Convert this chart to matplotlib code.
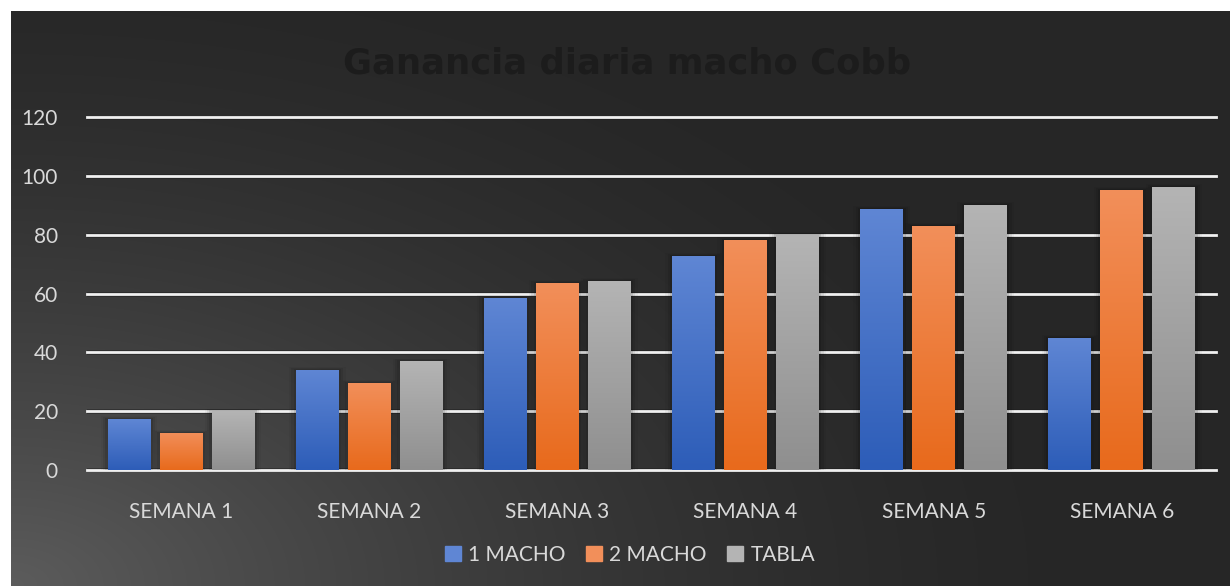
import numpy as np
import matplotlib.pyplot as plt
from matplotlib.colors import LinearSegmentedColormap
from matplotlib.patches import Rectangle

semanas = ["SEMANA 1", "SEMANA 2", "SEMANA 3", "SEMANA 4", "SEMANA 5", "SEMANA 6"]
series_names = ["1 MACHO", "2 MACHO", "TABLA"]
macho_1 = [17.3, 34.0, 58.5, 72.8, 88.8, 44.9]
macho_2 = [12.6, 29.6, 63.6, 78.2, 83.0, 95.2]
tabla = [20.0, 37.0, 64.3, 80.0, 90.1, 96.3]

# top / bottom gradient colours per series
grad_colors = [("#5f86d4", "#2d5db8"), ("#f28f5a", "#e86a1c"), ("#b4b4b4", "#8f8f8f")]

plt.rcParams["font.family"] = ["Lato", "DejaVu Sans"]

W, H = 1230, 586
fig = plt.figure(figsize=(W / 100, H / 100), dpi=100)
fig.patch.set_facecolor("white")

# dark background with a light glow in the bottom-left corner
bg = fig.add_axes([11 / W, 0, 1 - 11 / W, 1 - 11 / H])
bg.set_axis_off()
yy, xx = np.mgrid[0:575, 0:1219]
d = np.sqrt((xx / 1219.0) ** 2 * 1.6 + ((574 - yy) / 575.0) ** 2) / 1.15
glow = np.clip(1 - d, 0, 1) ** 1.6
dark, light = 0x26 / 255, 0x5c / 255
shade = dark + (light - dark) * glow
bg.imshow(np.dstack([shade, shade, shade]), aspect="auto", origin="upper",
          extent=(0, 1, 0, 1))
bg.set_xlim(0, 1)
bg.set_ylim(0, 1)

ax = fig.add_axes([87 / W, 1 - 470 / H, (1216 - 87) / W, (470 - 117) / H])
ax.set_facecolor("none")
for s in ax.spines.values():
    s.set_visible(False)

x = np.arange(len(semanas))
width = 43 / 188.2
step = 52 / 188.2
all_series = [macho_1, macho_2, tabla]

for i, (vals, name, (c_top, c_bot)) in enumerate(zip(all_series, series_names, grad_colors)):
    cmap = LinearSegmentedColormap.from_list(name, [c_bot, c_top])
    bars = ax.bar(x + (i - 1) * step, vals, width, color=c_top, label=name, zorder=3)
    for b in bars:
        bx, by = b.get_x(), b.get_y()
        bw, bh = b.get_width(), b.get_height()
        # soft shadow
        for k, a in enumerate([0.10, 0.07, 0.04]):
            off = 0.012 * (k + 1)
            ax.add_patch(Rectangle((bx - off, 0), bw + 2 * off, bh + off * 25,
                                   color="black", alpha=a, lw=0, zorder=2.5))
        img = ax.imshow(np.linspace(0, 1, 100).reshape(-1, 1), cmap=cmap,
                        aspect="auto", origin="lower",
                        extent=(bx, bx + bw, by, by + bh), zorder=3.5)
        img.set_clip_path(b)
        b.set_facecolor("none")

ax.set_xlim(-0.5, len(semanas) - 0.5)
ax.set_ylim(0, 120)
ax.set_yticks(range(0, 121, 20))
for yv in range(0, 121, 20):
    ax.axhline(yv, color="#1e1e1e", lw=3.5, alpha=0.5, zorder=1)
    ax.axhline(yv, color="#f0f0f0", lw=2.0, zorder=1.5, clip_on=False)

ax.set_xticks(x)
ax.set_xticklabels(semanas)
ax.tick_params(axis="both", length=0, colors="#d9d9d9", labelsize=15)
ax.tick_params(axis="y", pad=21)
ax.tick_params(axis="x", pad=23)

fig.text(627 / W, 1 - 63 / H, "Ganancia diaria macho Cobb", ha="center", va="center",
         fontsize=25.5, fontweight="bold", color="#1c1c1c", family="DejaVu Sans")

proxies = [Rectangle((0, 0), 1, 1, color=c_top) for c_top, _ in grad_colors]
leg = fig.legend(proxies, series_names, loc="center", bbox_to_anchor=(630 / W, 1 - 555 / H),
                 ncol=3, frameon=False, fontsize=15, handlelength=0.75, handleheight=0.75,
                 handletextpad=0.35, columnspacing=1.0)
for t in leg.get_texts():
    t.set_color("#d9d9d9")

fig.savefig("out.png", dpi=100, facecolor=fig.get_facecolor())
